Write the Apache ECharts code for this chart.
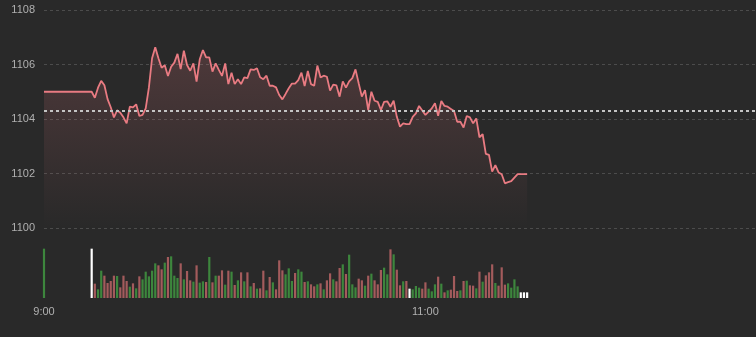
<!DOCTYPE html>
<html><head><meta charset="utf-8">
<script src="https://cdn.jsdelivr.net/npm/echarts@6/dist/echarts.min.js"></script>
<style>html,body{margin:0;padding:0;background:#292929}#c{width:756px;height:337px}</style>
</head><body><div id="c"></div>
<script>
const prevClose = 1104.3;
const priceMin = 1100, priceMax = 1108, priceStep = 2;
const timeTickLabels = ['9:00', '11:00'];

const prices = [
1105.0,1105.0,1105.0,1105.0,1105.0,1105.0,1105.0,1105.0,1105.0,1105.0,
1105.0,1105.0,1105.0,1105.0,1105.0,1105.0,1104.78,1105.15,1105.4,1105.24,
1104.73,1104.43,1104.06,1104.32,1104.23,1104.06,1103.84,1104.45,1104.43,1104.54,
1104.11,1104.15,1104.39,1105.15,1106.23,1106.63,1106.23,1105.88,1105.97,1105.58,
1105.92,1106.07,1106.39,1105.83,1106.51,1105.98,1105.77,1106.04,1105.37,1106.19,
1106.53,1106.26,1106.26,1105.74,1106.04,1105.8,1105.58,1106.04,1105.28,1105.7,
1105.28,1105.46,1105.28,1105.53,1105.5,1105.82,1105.8,1105.86,1105.53,1105.46,
1105.59,1105.22,1105.22,1105.16,1104.88,1104.72,1104.92,1105.13,1105.3,1105.3,
1105.43,1105.7,1105.21,1105.76,1105.28,1105.22,1105.96,1105.52,1105.59,1105.55,
1105.04,1105.26,1105.23,1104.82,1105.38,1105.15,1105.38,1105.5,1105.82,1105.31,
1104.82,1105.06,1104.33,1105.0,1104.67,1104.63,1104.33,1104.63,1104.65,1104.45,
1104.67,1104.08,1103.72,1103.84,1103.81,1103.81,1104.08,1104.21,1104.48,1104.31,
1104.15,1104.27,1104.39,1104.58,1104.12,1104.66,1104.48,1104.45,1104.37,1104.29,
1103.9,1103.9,1103.69,1104.11,1104.06,1103.84,1104.02,1103.33,1103.44,1102.72,
1102.68,1102.07,1102.31,1102.04,1101.97,1101.64,1101.68,1101.72,1101.85,1101.98,
1101.98,1101.98,1101.98
];

const volumes = [
1480,0,0,0,0,0,0,0,0,0,
0,0,0,0,0,1480,430,260,820,670,
450,510,670,660,320,670,510,340,440,290,
650,560,790,650,820,1040,980,860,1060,1230,
1250,670,600,1040,560,810,530,490,980,460,
500,480,1230,470,670,670,830,400,820,790,
390,530,770,500,770,350,450,280,290,820,
230,630,470,260,1130,830,710,890,510,750,
860,790,480,500,410,350,410,440,260,530,
740,560,500,900,1010,720,1300,410,320,580,
530,370,670,730,530,410,840,910,710,1460,
1310,850,380,500,510,280,260,360,310,280,
470,280,200,410,640,430,170,230,250,660,
210,230,510,520,380,370,290,790,490,680,
770,1010,450,370,920,400,440,310,560,350,
170,170,170
];

// u = up (green), d = down (red), e = unchanged (white)
const directions =
  'ueeeeeeeee' + 'eeeeeeduud' + 'dddudddudu' + 'duuuuuddud' + 'uuududdudu' +
  'udududdudu' + 'dududududd' + 'ududdduuud' + 'uududdudud' + 'dudduduuud' +
  'dududdduud' + 'uddudeuuud' + 'duuudududd' + 'dududdudud' + 'dduddduuuu' + 'eee';

// trading minutes: 9:00-11:30, 13:31-14:44
const times = [];
function addRange(h1, m1, h2, m2) {
  for (let t = h1 * 60 + m1; t <= h2 * 60 + m2; t++) {
    const h = Math.floor(t / 60), m = t % 60;
    times.push(h + ':' + (m < 10 ? '0' + m : m));
  }
}
addRange(9, 0, 11, 30);
addRange(13, 31, 14, 44);

const colorMap = { u: '#3d863d', d: '#a35b5c', e: '#ffffff' };
const volData = volumes.map((v, i) => ({ value: v, itemStyle: { color: colorMap[directions[i]] } }));

const lineColor = '#e97b82';
const labelFont = { color: '#b0b0b0', fontSize: 11, fontFamily: 'Liberation Sans, Arial, sans-serif' };

const chart = echarts.init(document.getElementById('c'));
chart.setOption({
  backgroundColor: '#292929',
  animation: false,
  grid: [
    { left: 44, right: 0, top: 10, bottom: 109 },
    { left: 44, right: 0, top: 248, bottom: 39 }
  ],
  xAxis: [
    { type: 'category', gridIndex: 0, data: times, boundaryGap: false,
      axisLine: { show: false }, axisTick: { show: false }, axisLabel: { show: false }, splitLine: { show: false } },
    { type: 'category', gridIndex: 1, data: times, boundaryGap: false,
      axisLine: { show: false }, axisTick: { show: false }, splitLine: { show: false },
      axisLabel: Object.assign({ margin: 8, interval: (idx, val) => timeTickLabels.indexOf(val) >= 0 }, labelFont) }
  ],
  yAxis: [
    { type: 'value', gridIndex: 0, min: priceMin, max: priceMax, interval: priceStep,
      axisLine: { show: false }, axisTick: { show: false },
      axisLabel: Object.assign({ margin: 9, formatter: v => String(v) }, labelFont),
      splitLine: { show: true, lineStyle: { color: '#4c4c4c', width: 1, type: [3, 3] } } },
    { type: 'value', gridIndex: 1, min: 0, max: 1500,
      axisLine: { show: false }, axisTick: { show: false }, axisLabel: { show: false }, splitLine: { show: false } }
  ],
  series: [
    { type: 'line', xAxisIndex: 0, yAxisIndex: 0, data: prices, showSymbol: false, symbol: 'none',
      lineStyle: { color: lineColor, width: 1.8 },
      areaStyle: { color: new echarts.graphic.LinearGradient(0, 0, 0, 1, [
        { offset: 0, color: 'rgba(233,123,130,0.28)' },
        { offset: 1, color: 'rgba(233,123,130,0.0)' }
      ]) },
      markLine: { symbol: 'none', silent: true, label: { show: false },
        lineStyle: { color: '#c4c4c4', width: 2, type: [3, 3] },
        data: [{ yAxis: prevClose }] }
    },
    { type: 'bar', xAxisIndex: 1, yAxisIndex: 1, data: volData, barWidth: 2.2 }
  ]
});
</script></body></html>
